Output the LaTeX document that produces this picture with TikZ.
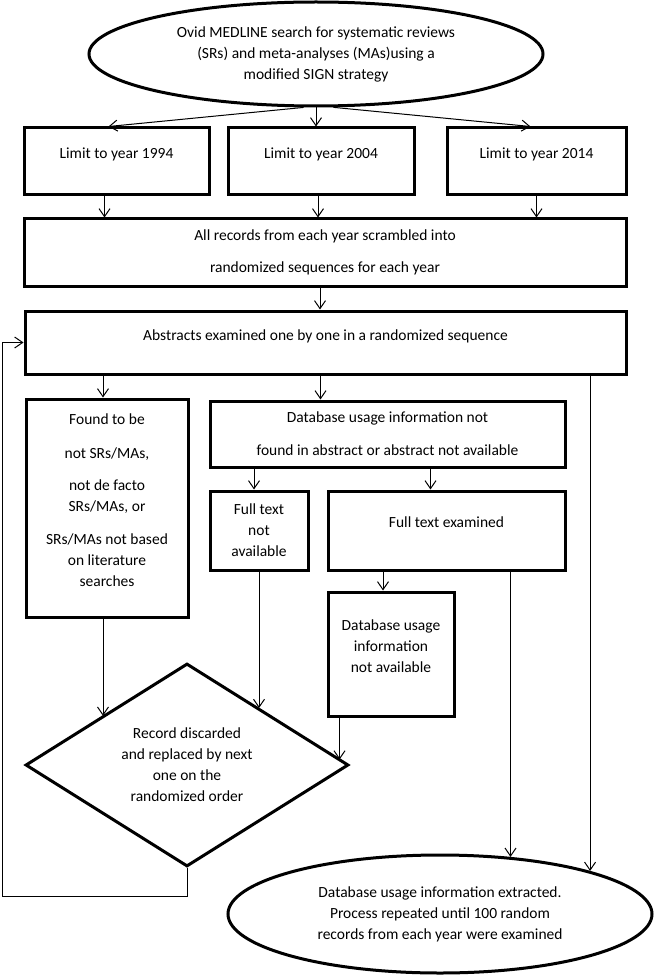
\documentclass[tikz,border=0pt]{standalone}
\usepackage{fontspec}
\setmainfont{Carlito}
\usetikzlibrary{shapes.geometric,arrows.meta}

\begin{document}
\begin{tikzpicture}[x=1pt, y=-1pt,
    every node/.style={font=\fontsize{15.5}{21}\selectfont, align=center, inner sep=0pt},
    box/.style={rectangle, draw, line width=3pt},
    oval/.style={ellipse, draw, line width=3pt},
    flow/.style={-{Straight Barb[length=8pt,width=11pt]}, line width=1pt}]
    \useasboundingbox (0,0) rectangle (654,976);
    \node[oval, minimum width=454pt, minimum height=104pt] (search) at (316,54)
        {Ovid MEDLINE search for systematic reviews\\(SRs) and meta-analyses (MAs)using a\\modified SIGN strategy};
    \node[box, minimum width=185pt, minimum height=67pt] (y1994) at (116.5,161.5) {Limit to year 1994\\[-4.5pt]\mbox{}};
    \node[box, minimum width=186pt, minimum height=67pt] (y2004) at (321,161.5) {Limit to year 2004\\[-4.5pt]\mbox{}};
    \node[box, minimum width=179pt, minimum height=67pt] (y2014) at (536.5,161.5) {Limit to year 2014\\[-4.5pt]\mbox{}};
    \node[box, minimum width=602pt, minimum height=67pt] (scramble) at (325,252.5)
        {All records from each year scrambled into\\[11pt]randomized sequences for each year};
    \node[box, minimum width=601pt, minimum height=63pt] (abstracts) at (325.5,342.5)
        {Abstracts examined one by one in a randomized sequence\\[-6.5pt]\mbox{}};
    \node[box, minimum width=162pt, minimum height=218pt] (excluded) at (107,508)
        {Found to be\\[13pt]not SRs/MAs,\\[11pt]not de facto\\SRs/MAs, or\\[12pt]SRs/MAs not based\\on literature\\searches\\[-4.5pt]\mbox{}};
    \node[box, minimum width=355pt, minimum height=66pt] (notfound) at (387.5,434)
        {Database usage information not\\[12pt]found in abstract or abstract not available};
    \node[box, minimum width=98pt, minimum height=79pt] (nofull) at (259,530.5) {Full text\\not\\available};
    \node[box, minimum width=237pt, minimum height=79pt] (fulltext) at (446.5,530.5) {Full text examined\\[-4.5pt]\mbox{}};
    \node[box, minimum width=126pt, minimum height=124pt] (noinfo) at (391,654)
        {Database usage\\information\\not available\\[-4.5pt]\mbox{}};
    \node[diamond, draw, line width=3pt, aspect=1.6, minimum width=323pt, minimum height=203pt] (discard) at (187,765)
        {Record discarded\\and replaced by next\\one on the\\randomized order};
    \node[oval, minimum width=424pt, minimum height=118pt] (done) at (440,914)
        {Database usage information extracted.\\Process repeated until 100 random\\records from each year were examined};
    \coordinate (back) at (2,896);
    \draw[flow] (search.257) -- ([xshift=-8pt]y1994.north);
    \draw[flow] (search.south) -- (search.south |- y2004.north);
    \draw[flow] (search.288) -- ([xshift=-6pt]y2014.north);
    \draw[flow] ([xshift=-12pt]y1994.south) -- ([xshift=-12pt]y1994.south |- scramble.north);
    \draw[flow] ([xshift=-3pt]y2004.south) -- ([xshift=-3pt]y2004.south |- scramble.north);
    \draw[flow] (y2014.south) -- (y2014.south |- scramble.north);
    \draw[flow] ([xshift=-5pt]scramble.south) -- ([xshift=-5pt]scramble.south |- abstracts.north);
    \draw[flow] ([xshift=-4pt]excluded.north |- abstracts.south) -- ([xshift=-4pt]excluded.north);
    \draw[flow] ([xshift=-5pt]abstracts.south) -- ([xshift=-5pt]abstracts.south |- notfound.north);
    \draw[flow] (abstracts.south -| done.16) -- (done.16);
    \draw[flow] ([xshift=-5pt]nofull.north |- notfound.south) -- ([xshift=-5pt]nofull.north);
    \draw[flow] ([xshift=-16pt]fulltext.north |- notfound.south) -- ([xshift=-16pt]fulltext.north);
    \draw[flow] ([xshift=-8pt]noinfo.north |- fulltext.south) -- ([xshift=-8pt]noinfo.north);
    \draw[flow] (fulltext.south -| done.39) -- (done.39);
    \draw[flow] ([xshift=-4pt]excluded.south) -- ([xshift=-4pt]excluded.south |- discard.150);
    \draw[flow] (nofull.south) -- (nofull.south |- discard.38);
    \draw[flow] ([xshift=13pt]noinfo.south west) -- ([xshift=13pt]noinfo.south west |- discard.2);
    \draw[flow] (discard.south) |- (back) |- (abstracts.west);
\end{tikzpicture}
\end{document}
